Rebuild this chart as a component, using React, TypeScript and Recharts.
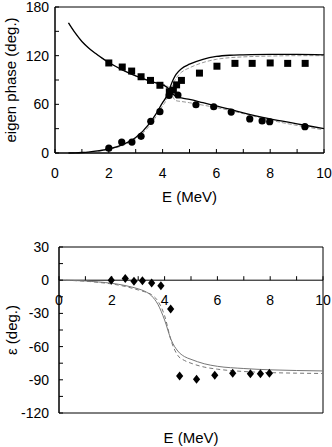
import React from 'react';
import { ComposedChart, Line, Scatter, XAxis, YAxis, ReferenceArea, ReferenceLine } from 'recharts';

// top panel: eigen phases
const sqE = [2.0, 2.5, 2.85, 3.2, 3.55, 3.9, 4.25, 4.4, 4.52, 4.7, 5.37, 6.02, 6.69, 7.33, 8.0, 8.65, 9.3];
const sqDeg = [111, 106, 101, 94, 89.5, 83.5, 75.5, 77.5, 84, 89.5, 98.5, 107, 110.5, 110.5, 111, 110.5, 110.5];
const circE = [2.0, 2.48, 2.86, 3.2, 3.56, 3.9, 4.24, 4.57, 5.24, 5.9, 6.55, 7.24, 7.7, 7.98, 9.29];
const circDeg = [6, 13.5, 13.5, 20.5, 39, 51, 71, 71.5, 59.5, 57, 50.5, 42, 39.5, 38.5, 32.5];

const curveE = [0.5, 0.75, 1, 1.25, 1.5, 1.75, 2, 2.5, 3, 3.5, 3.75, 4, 4.1, 4.2, 4.3, 4.4, 4.5, 4.7, 5, 5.5, 6, 6.5, 7, 8, 9, 10];
const fallSolid = [160.5, 148, 137.5, 129.5, 123, 117, 111.5, 102.5, 95, 89, 86.5, 84, 82.5, 80, 76, 72, 70, 68, 66, 62, 58, 54, 49.5, 42, 36, 30];
const fallDash = [160.5, 148, 137.5, 129.5, 123, 117, 111.5, 102.5, 95, 89.5, 87, 85, 84, 82, 76, 68, 64.5, 63.5, 62, 59, 56, 52.5, 48.5, 40.5, 34, 28.5];
const riseSolid = [0, 0.2, 0.6, 1.2, 2.2, 3.4, 5, 10, 19, 36, 48, 62, 67, 74, 83, 91, 97, 104, 109.5, 115.5, 119, 120.5, 121, 121.5, 121.5, 121];
const riseDash = [0, 0.2, 0.5, 1.1, 2, 3.1, 4.5, 9, 17.5, 33, 44.5, 58, 63, 70, 78, 86, 92, 99.5, 105, 111.5, 115.5, 117.5, 118.5, 119.5, 120, 120];

// bottom panel: mixing parameter
const diaE = [1.98, 2.51, 2.84, 3.16, 3.51, 3.86, 4.23, 4.57, 5.21, 5.9, 6.58, 7.25, 7.63, 7.97];
const diaDeg = [0, 1.5, -1, -0.5, -2.5, -5, -26, -86.5, -89.5, -86, -84, -84.5, -84.5, -84];
const epsE = [0, 0.5, 1, 1.5, 2, 2.5, 3, 3.25, 3.5, 3.75, 4, 4.25, 4.5, 4.75, 5, 5.5, 6, 7, 8, 9, 10];
const epsSolid = [0, -0.2, -0.7, -1.6, -2.8, -4.8, -7.8, -10, -14, -22, -36, -54, -64, -69, -71.5, -75.5, -77.8, -79.8, -81, -81.6, -82];
const epsDash = [0, -0.3, -0.9, -2, -3.4, -5.6, -8.8, -10.5, -13, -19, -32, -55, -68, -72.5, -75, -78.5, -80.4, -82.5, -83.5, -84, -84.3];

const xTicks = [0, 1, 2, 3, 4, 5, 6, 7, 8, 9, 10];
const phaseTicks = [0, 30, 60, 90, 120, 150, 180];
const epsTicks = [-120, -105, -90, -75, -60, -45, -30, -15, 0, 15, 30];

const pts = (xs: number[], ys: number[]) => xs.map((E, i) => ({ E, v: ys[i] }));

const font = 'Liberation Sans, Arial, Helvetica, sans-serif';
const tickStyle = { fontSize: 14, fill: '#000' };

const Square = (p: any) => <rect x={p.cx - 3.5} y={p.cy - 3.5} width={7} height={7} fill="#000" />;
const Dot = (p: any) => <circle cx={p.cx} cy={p.cy} r={3.6} fill="#000" />;
const Diamond = (p: any) => (
  <polygon points={`${p.cx},${p.cy - 4.5} ${p.cx + 3.6},${p.cy} ${p.cx},${p.cy + 4.5} ${p.cx - 3.6},${p.cy}`} fill="#000" />
);

const BOT_TOP = 32;
const BOT_H = 166;
const zeroY = BOT_TOP + (BOT_H * 30) / 150;

const ZeroTick = (p: any) => {
  const val = p.payload.value;
  return (
    <g>
      <line x1={p.x} x2={p.x} y1={zeroY} y2={zeroY - 4} stroke="#000" />
      {val % 2 === 0 && (
        <text x={p.x} y={zeroY + 25} textAnchor="middle" fontSize={14} fill="#000">{val}</text>
      )}
    </g>
  );
};

export default function App() {
  return (
    <div style={{ position: 'absolute', left: 0, top: 0, width: 332, height: 447, fontFamily: font, background: '#fff' }}>
      <div style={{ position: 'absolute', left: 0, top: 0 }}>
        <ComposedChart width={332} height={215} margin={{ top: 7, right: 8, bottom: 12, left: 0 }}>
          <XAxis dataKey="E" type="number" domain={[0, 10]} ticks={xTicks} interval={0}
            tickFormatter={(v: number) => (v % 2 === 0 ? String(v) : '')}
            tickSize={-4} tickMargin={19} tick={tickStyle} stroke="#000" height={50}
            label={{ value: 'E (MeV)', position: 'insideBottom', offset: 1, fontSize: 15, fill: '#000' }} />
          <YAxis type="number" domain={[0, 180]} ticks={phaseTicks} interval={0}
            tickFormatter={(v: number) => (v % 60 === 0 ? String(v) : '')}
            tickSize={-4} tickMargin={10} tick={tickStyle} stroke="#000" width={55}
            label={{ value: 'eigen phase (deg.)', angle: -90, position: 'insideLeft', offset: 11, fontSize: 15, fill: '#000', style: { textAnchor: 'middle' } }} />
          <ReferenceArea x1={0} x2={10} y1={0} y2={180} fill="#fff" fillOpacity={0} stroke="#000" strokeWidth={1} />
          <Line data={pts(curveE, fallDash)} dataKey="v" type="monotone" stroke="#999" strokeWidth={1} strokeDasharray="4 2" dot={false} isAnimationActive={false} />
          <Line data={pts(curveE, riseDash)} dataKey="v" type="monotone" stroke="#999" strokeWidth={1} strokeDasharray="4 2" dot={false} isAnimationActive={false} />
          <Line data={pts(curveE, fallSolid)} dataKey="v" type="monotone" stroke="#000" strokeWidth={1.3} dot={false} isAnimationActive={false} />
          <Line data={pts(curveE, riseSolid)} dataKey="v" type="monotone" stroke="#000" strokeWidth={1.3} dot={false} isAnimationActive={false} />
          <Scatter data={pts(sqE, sqDeg)} dataKey="v" shape={Square} isAnimationActive={false} />
          <Scatter data={pts(circE, circDeg)} dataKey="v" shape={Dot} isAnimationActive={false} />
        </ComposedChart>
      </div>
      <div style={{ position: 'absolute', left: 0, top: 215 }}>
        <ComposedChart width={332} height={232} margin={{ top: BOT_TOP, right: 9, bottom: 0, left: 0 }}>
          <XAxis dataKey="E" type="number" domain={[0, 10]} ticks={xTicks} interval={0}
            axisLine={false} tickLine={false} tickSize={0} tickMargin={0} tick={<ZeroTick />} height={34}
            label={{ value: 'E (MeV)', position: 'insideBottom', offset: 4, fontSize: 15, fill: '#000' }} />
          <YAxis type="number" domain={[-120, 30]} ticks={epsTicks} interval={0}
            tickFormatter={(v: number) => (v % 30 === 0 ? String(v) : '')}
            tickSize={-4} tickMargin={14} tick={tickStyle} stroke="#000" width={59}
            label={{ value: 'ε (deg.)', angle: -90, position: 'insideLeft', offset: 12, fontSize: 15, fill: '#000', style: { textAnchor: 'middle' } }} />
          <ReferenceArea x1={0} x2={10} y1={-120} y2={30} fill="#fff" fillOpacity={0} stroke="#000" strokeWidth={1} />
          <ReferenceLine y={0} stroke="#000" strokeWidth={1} />
          <Line data={pts(epsE, epsDash)} dataKey="v" type="monotone" stroke="#777" strokeWidth={1} strokeDasharray="4 3" dot={false} isAnimationActive={false} />
          <Line data={pts(epsE, epsSolid)} dataKey="v" type="monotone" stroke="#777" strokeWidth={1} dot={false} isAnimationActive={false} />
          <Scatter data={pts(diaE, diaDeg)} dataKey="v" shape={Diamond} isAnimationActive={false} />
        </ComposedChart>
      </div>
    </div>
  );
}
